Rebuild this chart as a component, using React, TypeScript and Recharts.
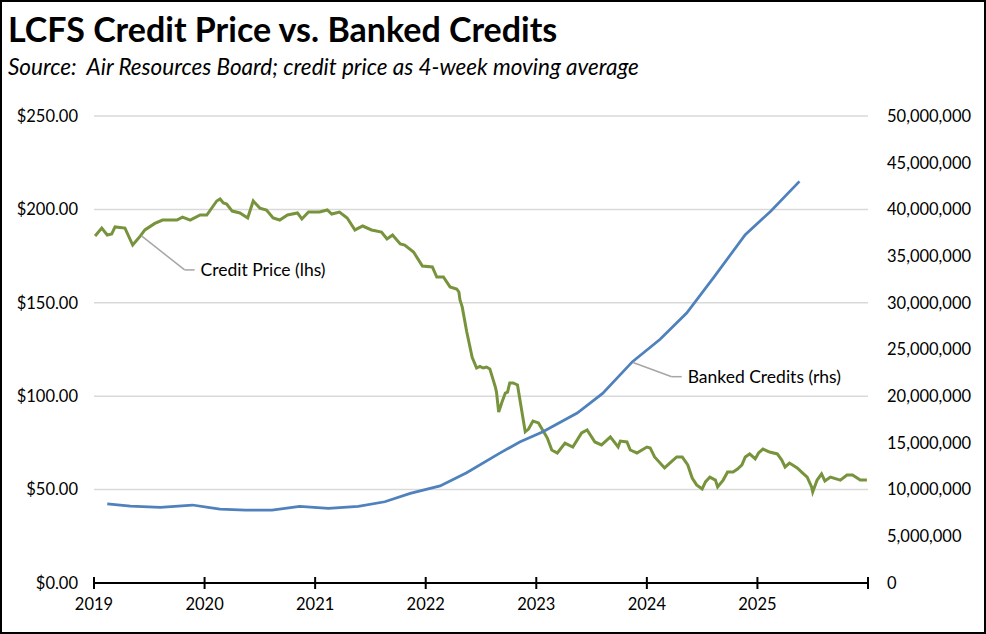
import React from 'react';
import {
  CartesianGrid,
  ComposedChart,
  Line,
  ReferenceDot,
  ReferenceLine,
  XAxis,
  YAxis,
} from 'recharts';

const FONT = 'Lato, "Open Sans", sans-serif';

// axis ticks
const yearTicks = [2019, 2020, 2021, 2022, 2023, 2024, 2025, 2026];
const priceTicks = [0, 50, 100, 150, 200, 250];
const bankedTicks = [0, 5e6, 10e6, 15e6, 20e6, 25e6, 30e6, 35e6, 40e6, 45e6, 50e6];

// credit price, 4-week moving average ($/credit)
const priceDates = [
  2019.01, 2019.07, 2019.12, 2019.16, 2019.19, 2019.28, 2019.35, 2019.42, 2019.46, 2019.55,
  2019.62, 2019.75, 2019.8, 2019.87, 2019.96, 2020.02, 2020.11, 2020.14, 2020.17, 2020.2,
  2020.25, 2020.32, 2020.39, 2020.44, 2020.5, 2020.56, 2020.62, 2020.68, 2020.75, 2020.84,
  2020.88, 2020.94, 2021.04, 2021.11, 2021.15, 2021.22, 2021.29, 2021.36, 2021.43, 2021.51,
  2021.6, 2021.65, 2021.7, 2021.77, 2021.81, 2021.89, 2021.97, 2022.06, 2022.1, 2022.16,
  2022.22, 2022.28, 2022.3, 2022.31, 2022.33, 2022.37, 2022.42, 2022.46, 2022.49, 2022.52,
  2022.55, 2022.58, 2022.63, 2022.64, 2022.66, 2022.69, 2022.72, 2022.74, 2022.76, 2022.79,
  2022.83, 2022.9, 2022.93, 2022.97, 2023.02, 2023.1, 2023.14, 2023.19, 2023.26, 2023.33,
  2023.41, 2023.46, 2023.53, 2023.59, 2023.67, 2023.74, 2023.76, 2023.82, 2023.85, 2023.91,
  2024.0, 2024.03, 2024.07, 2024.16, 2024.22, 2024.27, 2024.32, 2024.37, 2024.41, 2024.45,
  2024.5, 2024.53, 2024.57, 2024.62, 2024.64, 2024.69, 2024.73, 2024.78, 2024.82, 2024.86,
  2024.89, 2024.93, 2024.96, 2024.98, 2025.01, 2025.05, 2025.11, 2025.18, 2025.22, 2025.25,
  2025.29, 2025.36, 2025.4, 2025.45, 2025.49, 2025.5, 2025.54, 2025.58, 2025.61, 2025.66,
  2025.75, 2025.81, 2025.86, 2025.93, 2025.99,
];
const priceValues = [
  185.8, 190.0, 186.3, 186.8, 190.6, 190.0, 180.9, 185.8, 189.0, 192.5,
  194.3, 194.3, 195.9, 194.3, 197.0, 197.0, 204.5, 205.6, 203.4, 202.9,
  199.1, 198.1, 195.4, 204.5, 200.7, 199.7, 195.4, 194.3, 197.0, 198.1,
  194.9, 198.6, 198.6, 199.7, 197.5, 198.6, 195.4, 189.0, 191.1, 189.0,
  187.9, 184.2, 186.3, 181.5, 180.9, 177.2, 169.7, 169.2, 163.8, 163.8,
  158.5, 157.4, 155.8, 151.5, 147.8, 134.8, 120.8, 115.1, 116.0, 115.1,
  115.6, 114.6, 104.9, 102.2, 91.5, 96.9, 101.7, 102.2, 107.1, 107.1,
  106.0, 81.0, 82.4, 86.7, 85.7, 77.6, 71.2, 69.6, 74.9, 72.8,
  80.3, 81.9, 75.5, 73.9, 78.2, 72.8, 76.0, 75.5, 71.2, 69.6,
  72.8, 72.3, 67.5, 61.6, 64.8, 67.5, 67.5, 63.2, 56.2, 52.5,
  50.3, 54.1, 56.7, 55.1, 51.4, 55.1, 59.4, 59.4, 61.0, 63.2,
  67.5, 69.1, 67.5, 66.4, 69.6, 71.7, 70.1, 69.1, 65.8, 62.1,
  64.2, 61.6, 59.4, 56.7, 51.4, 48.7, 55.1, 58.4, 54.6, 56.7,
  55.1, 57.8, 57.8, 55.1, 55.1,
];

// banked credits (credits)
const bankedDates = [
  2019.12, 2019.33, 2019.6, 2019.89, 2020.14, 2020.37, 2020.61, 2020.86, 2021.12, 2021.39,
  2021.63, 2021.86, 2022.13, 2022.37, 2022.67, 2022.85, 2023.06, 2023.37, 2023.6, 2023.87,
  2024.12, 2024.36, 2024.61, 2024.89, 2025.12, 2025.38,
];
const bankedValues = [
  8460000, 8240000, 8100000, 8350000, 7900000, 7800000, 7800000, 8200000, 8000000, 8200000,
  8700000, 9600000, 10400000, 11800000, 13900000, 15100000, 16200000, 18200000, 20300000, 23700000,
  26100000, 28900000, 32800000, 37300000, 39800000, 43000000,
];

const priceData = priceDates.map((date, i) => ({ date, price: priceValues[i] }));
const bankedData = bankedDates.map((date, i) => ({ date, banked: bankedValues[i] }));

const TICK_MARGIN = 15;
const AXIS_FONT_SIZE = 16.5;

function YearTick(props: any) {
  const { x, y, payload } = props;
  const axisY = y - TICK_MARGIN;
  return (
    <g>
      <line x1={x} x2={x} y1={axisY - 6} y2={axisY + 6} stroke="#000" strokeWidth={2} />
      {payload.value < 2026 ? (
        <text
          x={x}
          y={y}
          dy="0.71em"
          textAnchor="middle"
          fill="#000"
          fontSize={AXIS_FONT_SIZE}
          fontFamily={FONT}
        >
          {payload.value}
        </text>
      ) : null}
    </g>
  );
}

const tickStyle = { fontSize: AXIS_FONT_SIZE, fill: '#000', fontFamily: FONT };
const labelStyle = { fontSize: 17.5, fill: '#000', fontFamily: FONT };

export default function App() {
  return (
    <div style={{ position: 'absolute', left: 0, top: 0, width: 986, height: 634, background: '#fff' }}>
      <div
        style={{
          position: 'absolute',
          left: 8,
          top: 8,
          fontFamily: FONT,
          fontWeight: 700,
          fontSize: 34,
          color: '#000',
          whiteSpace: 'nowrap',
        }}
      >
        LCFS Credit Price vs. Banked Credits
      </div>
      <div
        style={{
          position: 'absolute',
          left: 8,
          top: 53,
          fontFamily: FONT,
          fontStyle: 'italic',
          fontSize: 22.5,
          color: '#000',
          whiteSpace: 'pre',
        }}
      >
        {'Source:  Air Resources Board; credit price as 4-week moving average'}
      </div>
      <div style={{ position: 'absolute', left: 0, top: 0 }}>
        <ComposedChart width={986} height={634} margin={{ top: 116, right: 0, bottom: 0, left: 0 }}>
          <CartesianGrid
            yAxisId="left"
            vertical={false}
            stroke="#d9d9d9"
            strokeWidth={1.5}
            horizontalValues={priceTicks}
          />
          <XAxis
            dataKey="date"
            type="number"
            domain={[2019, 2026]}
            ticks={yearTicks}
            interval={0}
            allowDuplicatedCategory={false}
            height={51}
            tickSize={0}
            tickMargin={TICK_MARGIN}
            tickLine={false}
            axisLine={{ stroke: '#000', strokeWidth: 2 }}
            tick={<YearTick />}
          />
          <YAxis
            yAxisId="left"
            orientation="left"
            width={94}
            domain={[0, 250]}
            ticks={priceTicks}
            interval={0}
            axisLine={false}
            tickLine={false}
            tickSize={0}
            tickMargin={16}
            tick={tickStyle}
            tickFormatter={(v: number) => `$${v.toFixed(2)}`}
          />
          <YAxis
            yAxisId="right"
            orientation="right"
            width={118}
            domain={[0, 50000000]}
            ticks={bankedTicks}
            interval={0}
            axisLine={false}
            tickLine={false}
            tickSize={0}
            tickMargin={19}
            tick={tickStyle}
            tickFormatter={(v: number) => v.toLocaleString('en-US')}
          />
          <Line
            yAxisId="left"
            data={priceData}
            dataKey="price"
            type="linear"
            stroke="#77933c"
            strokeWidth={3}
            dot={false}
            activeDot={false}
            isAnimationActive={false}
          />
          <Line
            yAxisId="right"
            data={bankedData}
            dataKey="banked"
            type="linear"
            stroke="#4f81bd"
            strokeWidth={2.75}
            dot={false}
            activeDot={false}
            isAnimationActive={false}
          />
          <ReferenceLine
            yAxisId="left"
            segment={[
              { x: 2019.43, y: 185.8 },
              { x: 2019.82, y: 167.6 },
            ]}
            stroke="#a6a6a6"
            strokeWidth={1.5}
          />
          <ReferenceLine
            yAxisId="left"
            segment={[
              { x: 2019.82, y: 167.6 },
              { x: 2019.91, y: 167.6 },
            ]}
            stroke="#a6a6a6"
            strokeWidth={1.5}
          />
          <ReferenceDot
            yAxisId="left"
            x={2019.91}
            y={167.6}
            r={0}
            fill="none"
            stroke="none"
            label={{ value: 'Credit Price (lhs)', position: 'right', offset: 6, ...labelStyle }}
          />
          <ReferenceLine
            yAxisId="right"
            segment={[
              { x: 2023.875, y: 23600000 },
              { x: 2024.225, y: 22090000 },
            ]}
            stroke="#a6a6a6"
            strokeWidth={1.5}
          />
          <ReferenceLine
            yAxisId="right"
            segment={[
              { x: 2024.225, y: 22090000 },
              { x: 2024.315, y: 22090000 },
            ]}
            stroke="#a6a6a6"
            strokeWidth={1.5}
          />
          <ReferenceDot
            yAxisId="right"
            x={2024.315}
            y={22090000}
            r={0}
            fill="none"
            stroke="none"
            label={{ value: 'Banked Credits (rhs)', position: 'right', offset: 6, ...labelStyle }}
          />
        </ComposedChart>
      </div>
      <div
        style={{
          position: 'absolute',
          left: 0,
          top: 0,
          width: 986,
          height: 634,
          boxSizing: 'border-box',
          border: '2px solid #000',
          pointerEvents: 'none',
        }}
      />
    </div>
  );
}
